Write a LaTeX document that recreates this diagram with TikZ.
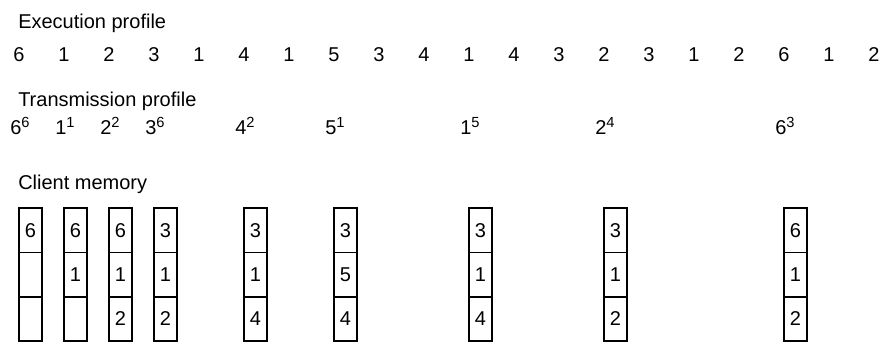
\documentclass[tikz,border=0pt]{standalone}
\usepackage{fontspec}
\setmainfont{Liberation Sans}
\usetikzlibrary{positioning}

% superscripted transmission entry
\newcommand{\tpow}[2]{#1\raisebox{0.33em}{\fontsize{11}{12}\selectfont #2}}

\begin{document}
\begin{tikzpicture}[
    x=0.75pt, y=-0.75pt,
    every node/.style={font=\fontsize{15}{18}\selectfont, inner sep=0pt},
    heading/.style={anchor=base west},
    digit/.style={anchor=base},
    cell/.style={
        draw,
        line width=1.1pt,
        outer sep=0pt,
        minimum width=17.25pt,
        minimum height=33.3pt,
        anchor=north,
    },
]
\useasboundingbox (0,0) rectangle (886,344);

% Column spacing
\def\xstart{19}
\def\xstep{45}

% Y positions (baselines)
\def\yExec{61}
\def\yTrans{134}
\def\yMem{208}

% --- Headings ---
\node[heading] (hexec) at (18,28) {Execution profile};
\node[heading] (htrans) at (18,106) {Transmission profile};
\node[heading] (hmem) at (18,189) {Client memory};

% --- Execution profile ---
\foreach \v [count=\i from 0] in {6,1,2,3,1,4,1,5,3,4,1,4,3,2,3,1,2,6,1,2} {
    \pgfmathsetmacro{\xx}{\xstart + \xstep*\i}
    \node[digit] (e\i) at (\xx,\yExec) {\v};
}

% --- Transmission profile ---
\foreach \c/\v/\w in {0/6/6, 1/1/1, 2/2/2, 3/3/6, 5/4/2, 7/5/1, 10/1/5, 13/2/4, 17/6/3} {
    \pgfmathsetmacro{\xx}{\xstart + \xstep*\c - 9}
    \node[anchor=base west] (t\c) at (\xx,\yTrans) {\tpow{\v}{\w}};
}

% --- Client memory ---
\foreach \c/\a/\b/\d in {0/6/{}/{}, 1/6/1/{}, 2/6/1/2, 3/3/1/2, 5/3/1/4, 7/3/5/4, 10/3/1/4, 13/3/1/2, 17/6/1/2} {
    \pgfmathsetmacro{\xx}{\xstart + \xstep*\c + 11.5}
    \node[cell] (m\c a) at (\xx,\yMem) {\a};
    \node[cell, below=0pt of m\c a] (m\c b) {\b};
    \node[cell, below=0pt of m\c b] (m\c c) {\d};
}

\end{tikzpicture}
\end{document}
